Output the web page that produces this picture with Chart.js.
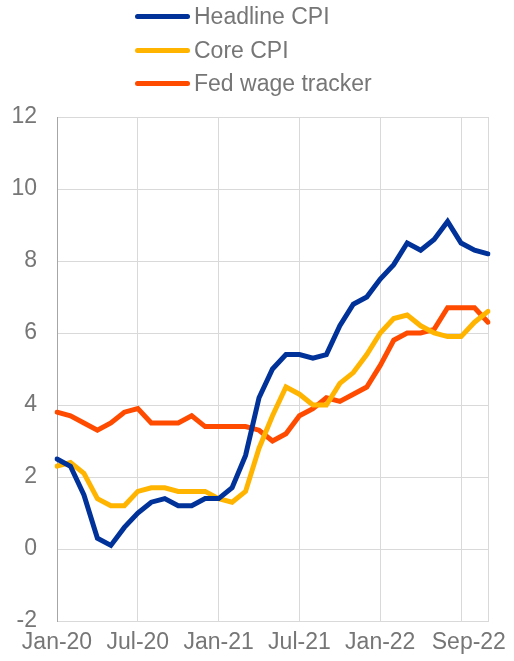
<!DOCTYPE html>
<html>
<head>
<meta charset="utf-8">
<title>Headline CPI, Core CPI and Fed wage tracker</title>
<script src="https://cdn.jsdelivr.net/npm/chart.js@4.4.1/dist/chart.umd.min.js"></script>
<style>
  html, body { margin: 0; padding: 0; background: #fff; }
  #wrap { position: relative; width: 514px; height: 661px; font-family: "Liberation Sans", Arial, sans-serif; }
  #legend { position: absolute; left: 135px; top: 0; color: #767676; font-size: 23px; }
  .item { display: flex; align-items: center; height: 33.5px; }
  .swatch { width: 55px; height: 5px; border-radius: 3px; margin-right: 4px; }
  canvas { position: absolute; left: 0; top: 0; }
</style>
</head>
<body>
<div id="wrap">
  <canvas id="chart" width="514" height="661"></canvas>
  <div id="legend"></div>
</div>
<script>
// Monthly, Jan-20 .. Sep-22
const months = [
  'Jan-20', 'Feb-20', 'Mar-20', 'Apr-20', 'May-20', 'Jun-20', 'Jul-20', 'Aug-20', 'Sep-20', 'Oct-20', 'Nov-20', 'Dec-20',
  'Jan-21', 'Feb-21', 'Mar-21', 'Apr-21', 'May-21', 'Jun-21', 'Jul-21', 'Aug-21', 'Sep-21', 'Oct-21', 'Nov-21', 'Dec-21',
  'Jan-22', 'Feb-22', 'Mar-22', 'Apr-22', 'May-22', 'Jun-22', 'Jul-22', 'Aug-22', 'Sep-22'
];

const headlineCpi = [2.5, 2.3, 1.5, 0.3, 0.1, 0.6, 1.0, 1.3, 1.4, 1.2, 1.2, 1.4,
  1.4, 1.7, 2.6, 4.2, 5.0, 5.4, 5.4, 5.3, 5.4, 6.2, 6.8, 7.0,
  7.5, 7.9, 8.5, 8.3, 8.6, 9.1, 8.5, 8.3, 8.2];

const coreCpi = [2.3, 2.4, 2.1, 1.4, 1.2, 1.2, 1.6, 1.7, 1.7, 1.6, 1.6, 1.6,
  1.4, 1.3, 1.6, 2.8, 3.7, 4.5, 4.3, 4.0, 4.0, 4.6, 4.9, 5.4,
  6.0, 6.4, 6.5, 6.2, 6.0, 5.9, 5.9, 6.3, 6.6];

const fedWageTracker = [3.8, 3.7, 3.5, 3.3, 3.5, 3.8, 3.9, 3.5, 3.5, 3.5, 3.7, 3.4,
  3.4, 3.4, 3.4, 3.3, 3.0, 3.2, 3.7, 3.9, 4.2, 4.1, 4.3, 4.5,
  5.1, 5.8, 6.0, 6.0, 6.1, 6.7, 6.7, 6.7, 6.3];

// which months get a label on the x axis
const shownLabels = ['Jan-20', 'Jul-20', 'Jan-21', 'Jul-21', 'Jan-22', 'Sep-22'];

const seriesNames = ['Headline CPI', 'Core CPI', 'Fed wage tracker'];
const seriesColors = ['#003299', '#FFB400', '#FF4B00'];
const seriesValues = [headlineCpi, coreCpi, fedWageTracker];

const textColor = '#767676';
const gridColor = '#d9d9d9';
const fontSpec = { family: '"Liberation Sans", Arial, sans-serif', size: 23 };

// legend is a plain html list, one row per series
function renderLegend() {
  const el = document.getElementById('legend');
  el.innerHTML = seriesNames.map((name, i) => `
    <div class="item">
      <span class="swatch" style="background:${seriesColors[i]}"></span>
      <span>${name}</span>
    </div>
  `).join('');
}

function buildDatasets() {
  return seriesNames.map((name, i) => ({
    label: name,
    data: seriesValues[i],
    borderColor: seriesColors[i],
    backgroundColor: seriesColors[i],
    borderWidth: 5,
    borderCapStyle: 'round',
    borderJoinStyle: 'miter',
    pointRadius: 0,
    tension: 0
  }));
}

renderLegend();

new Chart(document.getElementById('chart'), {
  type: 'line',
  data: {
    labels: months,
    datasets: buildDatasets()
  },
  options: {
    responsive: false,
    animation: false,
    layout: { padding: { top: 117, right: 26, bottom: 0, left: 0 } },
    plugins: {
      legend: { display: false },
      tooltip: { enabled: false }
    },
    scales: {
      x: {
        grid: {
          drawTicks: false,
          color: ctx => (ctx.index % 6 === 0 || ctx.index === months.length - 1) ? gridColor : 'rgba(0,0,0,0)'
        },
        border: { color: gridColor },
        ticks: {
          autoSkip: false,
          maxRotation: 0,
          padding: 8,
          color: textColor,
          font: fontSpec,
          callback: function (value, index) {
            const lab = months[index];
            if (!shownLabels.includes(lab)) return '';
            // last label sits left of the edge like in the source chart
            return index === months.length - 1 ? lab + '      ' : lab;
          }
        },
        afterFit: scale => {
          scale.height = 40;
          scale.paddingLeft = 0;
          scale.paddingRight = 0;
        }
      },
      y: {
        min: -2,
        max: 12,
        grid: { drawTicks: false, color: gridColor },
        border: { color: '#a6a6a6' },
        ticks: {
          stepSize: 2,
          padding: 20,
          color: textColor,
          font: fontSpec
        },
        afterFit: scale => { scale.width = 57; }
      }
    }
  }
});
</script>
</body>
</html>
